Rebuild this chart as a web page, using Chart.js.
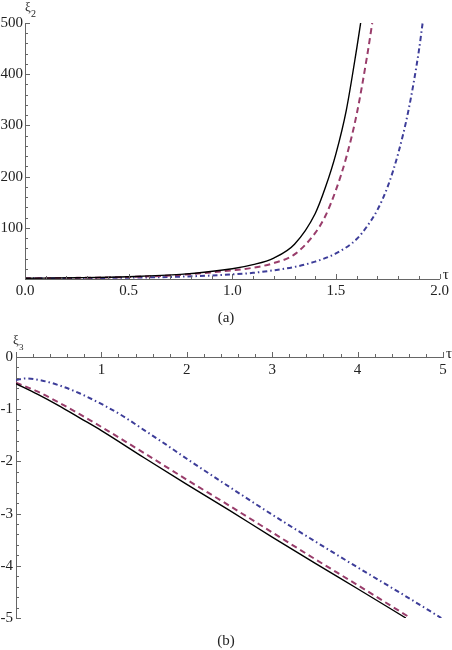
<!DOCTYPE html>
<html>
<head>
<meta charset="utf-8">
<script src="https://cdn.jsdelivr.net/npm/chart.js@4/dist/chart.umd.min.js"></script>
<style>
  body { margin: 0; background: #fff; width: 452px; height: 650px; overflow: hidden; position: relative; }
  canvas { position: absolute; left: 0; }
  .cap { position: absolute; width: 452px; text-align: center; font: 15px "Liberation Serif", "Times New Roman", serif; color: #222; }
</style>
</head>
<body>
<canvas id="chart-a" width="452" height="300" style="top:0"></canvas>
<canvas id="chart-b" width="452" height="330" style="top:320px"></canvas>
<div class="cap" style="top:309px">(a)</div>
<div class="cap" style="top:632px">(b)</div>
<script>
// (a) xi_2 against tau
const tauA_black = [0, 0.25, 0.5, 0.75, 1.0, 1.1, 1.2, 1.3, 1.4, 1.45, 1.5, 1.55, 1.6, 1.619];
const xiA_black  = [1.5, 2.5, 4.5, 9, 20, 28, 41, 68, 128, 180, 245, 330, 450, 500];
const tauA_red   = [0, 0.25, 0.5, 0.75, 1.0, 1.1, 1.2, 1.3, 1.4, 1.45, 1.5, 1.55, 1.6, 1.65, 1.675];
const xiA_red    = [1.4, 2.2, 4, 8, 17, 22, 31, 48, 90, 124, 174, 238, 322, 435, 500];
const tauA_blue  = [0, 0.25, 0.5, 0.75, 1.0, 1.1, 1.2, 1.3, 1.4, 1.5, 1.6, 1.65, 1.7, 1.75, 1.8, 1.85, 1.9, 1.918];
const xiA_blue   = [1.2, 1.8, 2.6, 4.5, 9, 12, 17, 23.5, 34, 50, 78, 103, 135, 181, 245, 330, 446, 500];

// (b) xi_3 against tau
const tauB_black = [0, 0.25, 0.5, 0.75, 1, 1.5, 2, 2.5, 3, 3.5, 4, 4.565];
const xiB_black  = [-0.51, -0.71, -0.93, -1.17, -1.41, -1.93, -2.44, -2.94, -3.45, -3.95, -4.44, -5.0];
const tauB_red   = [0, 0.25, 0.5, 0.75, 1, 1.5, 2, 2.5, 3, 3.5, 4, 4.62];
const xiB_red    = [-0.49, -0.66, -0.87, -1.10, -1.34, -1.84, -2.35, -2.85, -3.36, -3.87, -4.37, -5.0];
const tauB_blue  = [0, 0.11, 0.3, 0.5, 0.75, 1, 1.25, 1.5, 1.75, 2, 2.5, 3, 3.5, 4, 4.5, 4.98];
const xiB_blue   = [-0.44, -0.41, -0.45, -0.54, -0.70, -0.90, -1.13, -1.40, -1.67, -1.95, -2.49, -3.02, -3.53, -4.03, -4.52, -5.0];

const BLACK = '#000000', RED = '#993d6b', BLUE = '#3d3d99';
const FONT = "'Liberation Serif', 'Times New Roman', serif";

function pts(xs, ys) { return xs.map((x, i) => ({x: x, y: ys[i]})); }

function series(xs, ys, color, dash, width) {
    return {
        data: pts(xs, ys),
        borderColor: color,
        borderWidth: width,
        borderDash: dash,
        pointRadius: 0,
        fill: false,
        cubicInterpolationMode: 'monotone'
    };
}

// Mathematica style ticks (pointing up / right) and the axis names
const axisDecor = {
    id: 'axisDecor',
    afterDraw(chart, args, o) {
        const ctx = chart.ctx;
        const xs = chart.scales.x, ys = chart.scales.y;
        const x0 = xs.getPixelForValue(0), y0 = ys.getPixelForValue(0);
        ctx.save();
        ctx.strokeStyle = '#666';
        ctx.lineWidth = 1;
        ctx.beginPath();
        let n = Math.round((xs.max - xs.min) / o.xMinor);
        for (let i = 0; i <= n; i++) {
            const v = xs.min + i * o.xMinor;
            const major = Math.abs(v / o.xMajor - Math.round(v / o.xMajor)) < 1e-6;
            const px = Math.round(xs.getPixelForValue(v)) + 0.5;
            ctx.moveTo(px, y0);
            ctx.lineTo(px, y0 - (major ? 5 : 3));
        }
        n = Math.round((ys.max - ys.min) / o.yMinor);
        for (let i = 0; i <= n; i++) {
            const v = ys.min + i * o.yMinor;
            const major = Math.abs(v / o.yMajor - Math.round(v / o.yMajor)) < 1e-6;
            const py = Math.round(ys.getPixelForValue(v)) + 0.5;
            ctx.moveTo(x0, py);
            ctx.lineTo(x0 + (major ? 5 : 3), py);
        }
        ctx.stroke();

        ctx.fillStyle = '#222';
        ctx.textAlign = 'left';
        ctx.textBaseline = 'middle';
        ctx.font = '15px ' + FONT;
        ctx.fillText('τ', xs.right + 3, y0 + o.tauDy);
        ctx.textBaseline = 'alphabetic';
        ctx.font = '13px ' + FONT;
        ctx.fillText('ξ', x0 + o.xiDx, ys.top + o.xiDy);
        ctx.font = o.subSize + 'px ' + FONT;
        ctx.fillText(o.sub, x0 + o.xiDx + 6, ys.top + o.xiDy + 6);
        ctx.restore();
    }
};

const tickFont = {family: FONT, size: 15};

new Chart(document.getElementById('chart-a'), {
    type: 'line',
    data: {
        datasets: [
            series(tauA_black, xiA_black, BLACK, [], 1.4),
            series(tauA_red, xiA_red, RED, [6, 4], 2),
            series(tauA_blue, xiA_blue, BLUE, [5, 3, 1.5, 3], 2)
        ]
    },
    options: {
        responsive: false,
        animation: false,
        layout: {padding: {left: 0, right: 10, top: 23, bottom: 0}},
        plugins: {
            legend: {display: false},
            tooltip: {enabled: false},
            axisDecor: {xMinor: 0.1, xMajor: 0.5, yMinor: 20, yMajor: 100,
                        tauDy: -4, xiDx: 0, xiDy: -12, sub: '2', subSize: 10}
        },
        scales: {
            x: {
                type: 'linear', min: 0, max: 2,
                grid: {display: false, drawTicks: false},
                border: {display: true, color: '#666'},
                ticks: {stepSize: 0.5, padding: 3, color: '#222', font: tickFont,
                        callback: v => v.toFixed(1)},
                afterFit: s => { s.height = 21; }
            },
            y: {
                type: 'linear', min: 0, max: 500,
                grid: {display: false, drawTicks: false},
                border: {display: true, color: '#666'},
                ticks: {stepSize: 100, padding: 2, color: '#222', font: tickFont,
                        callback: v => v === 0 ? '' : v},
                afterFit: s => { s.width = 25; }
            }
        }
    },
    plugins: [axisDecor]
});

new Chart(document.getElementById('chart-b'), {
    type: 'line',
    data: {
        datasets: [
            series(tauB_black, xiB_black, BLACK, [], 1.4),
            series(tauB_red, xiB_red, RED, [6, 4], 2),
            series(tauB_blue, xiB_blue, BLUE, [5, 3, 1.5, 3], 2)
        ]
    },
    options: {
        responsive: false,
        animation: false,
        layout: {padding: {left: 0, right: 9, top: 37, bottom: 32}},
        plugins: {
            legend: {display: false},
            tooltip: {enabled: false},
            axisDecor: {xMinor: 0.2, xMajor: 1, yMinor: 0.2, yMajor: 1,
                        tauDy: -3, xiDx: -3, xiDy: -13, sub: '3', subSize: 9}
        },
        scales: {
            x: {
                type: 'linear', position: 'top', min: 0, max: 5,
                grid: {display: false, drawTicks: false},
                border: {display: true, color: '#666'},
                ticks: {stepSize: 1, padding: 4, mirror: true, color: '#222', font: tickFont,
                        callback: v => v === 0 ? '' : v},
                afterFit: s => { s.height = 0; }
            },
            y: {
                type: 'linear', min: -5, max: 0,
                grid: {display: false, drawTicks: false},
                border: {display: true, color: '#666'},
                ticks: {stepSize: 1, padding: 3, color: '#222', font: tickFont},
                afterFit: s => { s.width = 16; }
            }
        }
    },
    plugins: [axisDecor]
});
</script>
</body>
</html>
